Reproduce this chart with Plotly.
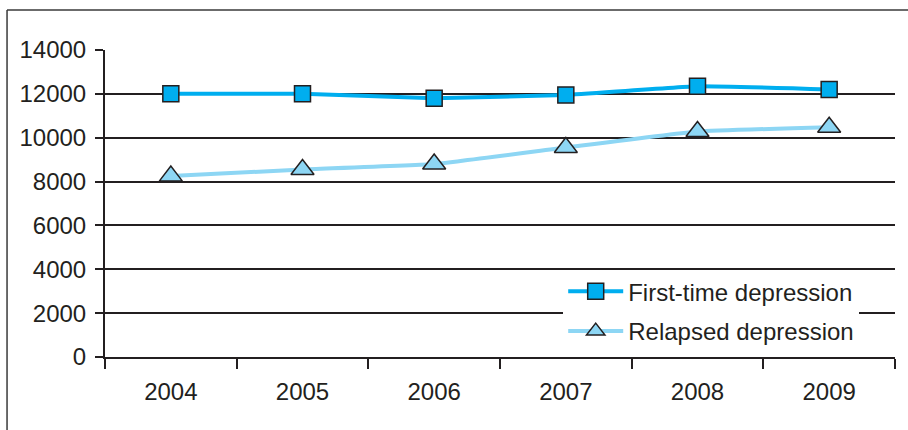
import plotly.graph_objects as go

# Annual number of depression cases, by type
years = ["2004", "2005", "2006", "2007", "2008", "2009"]
first_time = [12000, 12000, 11800, 11950, 12350, 12200]
relapsed = [8250, 8550, 8800, 9550, 10280, 10480]
y_ticks = [0, 2000, 4000, 6000, 8000, 10000, 12000, 14000]
y_tick_labels = [str(v) for v in y_ticks]

INK = "#231F20"
FONT = "Liberation Sans, Arial, sans-serif"

fig = go.Figure()
fig.add_trace(go.Scatter(
    x=years, y=first_time, name="First-time depression",
    mode="lines+markers", legend="legend",
    line=dict(color="#00AEEF", width=4, shape="spline", smoothing=0.3),
    marker=dict(symbol="square", size=16, color="#00AEEF",
                line=dict(color=INK, width=1.5)),
))
fig.add_trace(go.Scatter(
    x=years, y=relapsed, name="Relapsed depression",
    mode="lines+markers", legend="legend2",
    line=dict(color="#8DD6F4", width=4, shape="spline", smoothing=0.3),
    marker=dict(symbol="triangle-up", size=20, color="#8DD6F4",
                line=dict(color=INK, width=1.5)),
))

legend_common = dict(
    borderwidth=0, itemwidth=55,
    font=dict(family=FONT, size=24, color=INK),
    xanchor="left", yanchor="middle",
)

fig.update_layout(
    width=908, height=430,
    margin=dict(l=105, r=13, t=50, b=73),
    paper_bgcolor="white", plot_bgcolor="white",
    font=dict(family=FONT, size=24, color=INK),
    showlegend=True,
    legend=dict(**legend_common, bgcolor="rgba(255,255,255,0)",
                x=0.58, y=0.213),
    legend2=dict(**legend_common, bgcolor="white", x=0.58, y=0.083),
    xaxis=dict(
        type="category", showgrid=False, showline=True,
        linecolor=INK, linewidth=2, tickson="boundaries",
        ticks="outside", ticklen=10, tickwidth=1.5, tickcolor=INK,
        ticklabelstandoff=12, range=[-0.5, 5.5],
        tickfont=dict(family=FONT, size=24, color=INK),
    ),
    yaxis=dict(
        range=[0, 14000], tickvals=y_ticks, ticktext=y_tick_labels,
        showgrid=True, gridcolor=INK, gridwidth=1.5,
        showline=True, linecolor=INK, linewidth=2,
        ticks="outside", ticklen=8, tickwidth=1.5, tickcolor=INK,
        ticklabelstandoff=4, zeroline=False,
        tickfont=dict(family=FONT, size=24, color=INK),
    ),
    shapes=[
        # outer frame: left and top rules
        dict(type="line", xref="paper", yref="paper",
             x0=-0.124, x1=-0.124, y0=1.13, y1=-0.3,
             line=dict(color="#3a3a3a", width=1.5)),
        dict(type="line", xref="paper", yref="paper",
             x0=-0.124, x1=1.02, y0=1.13, y1=1.13,
             line=dict(color="#3a3a3a", width=1.5)),
    ],
)

fig.write_html("out.html")
